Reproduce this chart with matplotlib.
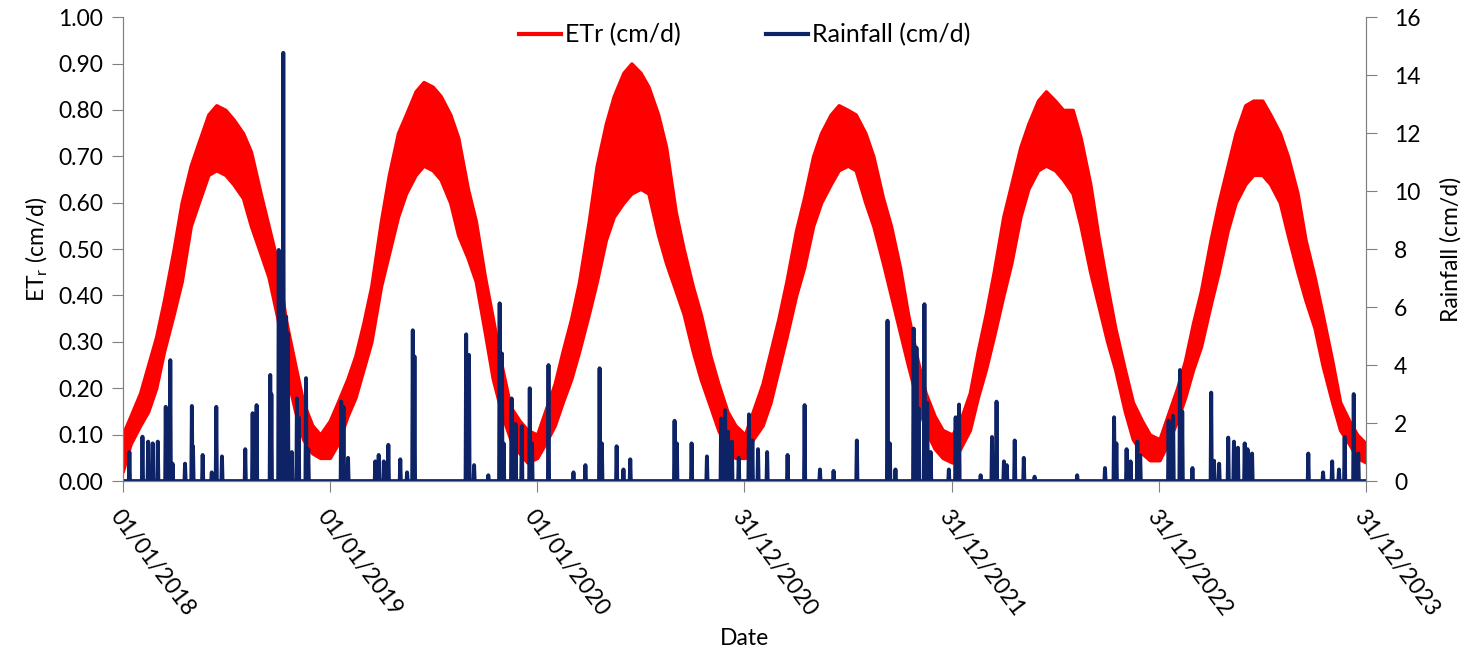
import numpy as np
import pandas as pd
import matplotlib
matplotlib.use('Agg')
from matplotlib import pyplot as plt
from matplotlib.lines import Line2D

plt.rcParams['font.family'] = ['Lato', 'DejaVu Sans']
plt.rcParams['mathtext.fontset'] = 'custom'
plt.rcParams['mathtext.rm'] = 'Lato'

# ETr envelope (lower / upper of the daily values),
# twice a month (1st and 15th) plus the last day
etr_dates = list(pd.date_range('2018-01-01', '2023-12-15', freq='SMS')) + [pd.Timestamp('2023-12-31')]
etr_low = [0.02, 0.08, 0.12, 0.15, 0.20, 0.28, 0.36, 0.43, 0.55, 0.60, 0.66, 0.67,
           0.66, 0.64, 0.61, 0.55, 0.49, 0.44, 0.35, 0.24, 0.15, 0.09, 0.06, 0.05,
           0.05, 0.08, 0.14, 0.18, 0.24, 0.30, 0.42, 0.49, 0.57, 0.62, 0.66, 0.68,
           0.67, 0.65, 0.60, 0.53, 0.48, 0.43, 0.32, 0.22, 0.14, 0.09, 0.06, 0.04,
           0.05, 0.08, 0.12, 0.17, 0.22, 0.28, 0.36, 0.43, 0.52, 0.57, 0.60, 0.62,
           0.63, 0.62, 0.53, 0.47, 0.41, 0.36, 0.28, 0.22, 0.16, 0.11, 0.07, 0.05,
           0.05, 0.09, 0.12, 0.17, 0.24, 0.31, 0.40, 0.46, 0.55, 0.60, 0.64, 0.67,
           0.68, 0.67, 0.60, 0.55, 0.47, 0.40, 0.32, 0.25, 0.17, 0.11, 0.07, 0.05,
           0.04, 0.07, 0.11, 0.18, 0.24, 0.31, 0.40, 0.47, 0.57, 0.63, 0.67, 0.68,
           0.67, 0.65, 0.62, 0.55, 0.45, 0.38, 0.30, 0.24, 0.15, 0.09, 0.06, 0.045,
           0.045, 0.08, 0.13, 0.18, 0.24, 0.29, 0.38, 0.45, 0.54, 0.60, 0.64, 0.66,
           0.66, 0.64, 0.60, 0.53, 0.45, 0.39, 0.33, 0.25, 0.17, 0.11, 0.08, 0.05,
           0.04]
etr_high = [0.10, 0.14, 0.19, 0.25, 0.31, 0.39, 0.50, 0.60, 0.68, 0.73, 0.79, 0.81,
            0.80, 0.78, 0.75, 0.71, 0.62, 0.55, 0.47, 0.35, 0.25, 0.17, 0.12, 0.10,
            0.13, 0.17, 0.22, 0.27, 0.34, 0.42, 0.56, 0.66, 0.75, 0.79, 0.84, 0.86,
            0.85, 0.83, 0.79, 0.74, 0.63, 0.56, 0.44, 0.35, 0.24, 0.16, 0.13, 0.11,
            0.10, 0.15, 0.21, 0.28, 0.35, 0.43, 0.56, 0.68, 0.77, 0.83, 0.88, 0.90,
            0.88, 0.85, 0.79, 0.72, 0.58, 0.50, 0.42, 0.36, 0.27, 0.21, 0.15, 0.12,
            0.10, 0.15, 0.21, 0.28, 0.35, 0.43, 0.54, 0.61, 0.70, 0.75, 0.79, 0.81,
            0.80, 0.79, 0.75, 0.70, 0.61, 0.55, 0.46, 0.36, 0.26, 0.19, 0.14, 0.11,
            0.10, 0.13, 0.19, 0.28, 0.36, 0.45, 0.57, 0.64, 0.72, 0.77, 0.82, 0.84,
            0.82, 0.80, 0.80, 0.74, 0.64, 0.53, 0.42, 0.33, 0.24, 0.17, 0.13, 0.10,
            0.09, 0.14, 0.20, 0.26, 0.34, 0.41, 0.52, 0.60, 0.68, 0.75, 0.81, 0.82,
            0.82, 0.79, 0.75, 0.70, 0.62, 0.52, 0.44, 0.36, 0.26, 0.17, 0.13, 0.10,
            0.08]

# rain days (cm/d), all other days are 0
rain_dates = ['2018-01-13', '2018-02-05', '2018-02-15', '2018-02-23', '2018-03-04', '2018-03-18',
              '2018-03-20', '2018-03-26', '2018-03-30', '2018-04-21', '2018-05-03', '2018-05-05',
              '2018-05-22', '2018-06-07', '2018-06-15', '2018-06-25', '2018-08-05', '2018-08-18',
              '2018-08-25', '2018-09-18', '2018-09-20', '2018-10-03', '2018-10-07', '2018-10-11',
              '2018-10-16', '2018-10-19', '2018-10-26', '2018-11-04', '2018-11-07', '2018-11-20',
              '2018-11-24',
              '2019-01-21', '2019-01-25', '2019-02-02', '2019-03-22', '2019-03-28', '2019-04-06',
              '2019-04-14', '2019-05-05', '2019-05-17', '2019-05-27', '2019-05-30', '2019-08-29',
              '2019-09-03', '2019-09-12', '2019-10-07', '2019-10-27', '2019-10-31', '2019-11-03',
              '2019-11-17', '2019-11-24', '2019-12-05', '2019-12-19', '2019-12-23',
              '2020-01-21', '2020-03-05', '2020-03-26', '2020-04-20', '2020-04-24', '2020-05-20',
              '2020-06-01', '2020-06-13', '2020-08-30', '2020-09-03', '2020-09-29', '2020-10-26',
              '2020-11-20', '2020-11-27', '2020-12-02', '2020-12-09', '2020-12-21',
              '2021-01-08', '2021-01-14', '2021-01-24', '2021-02-09', '2021-03-17', '2021-04-16',
              '2021-05-13', '2021-06-06', '2021-07-17', '2021-09-09', '2021-09-13', '2021-09-23',
              '2021-10-25', '2021-10-30', '2021-11-03', '2021-11-13', '2021-11-18', '2021-11-24',
              '2021-12-26',
              '2022-01-07', '2022-01-13', '2022-02-20', '2022-03-12', '2022-03-20', '2022-04-02',
              '2022-04-07', '2022-04-21', '2022-05-07', '2022-05-26', '2022-08-09', '2022-09-27',
              '2022-10-13', '2022-10-17', '2022-11-04', '2022-11-11', '2022-11-23', '2022-11-28',
              '2023-01-17', '2023-01-25', '2023-02-06', '2023-02-10', '2023-02-28', '2023-04-02',
              '2023-04-07', '2023-04-16', '2023-05-02', '2023-05-12', '2023-05-19', '2023-05-31',
              '2023-06-05', '2023-06-13', '2023-09-20', '2023-10-16', '2023-11-01', '2023-11-13',
              '2023-11-23', '2023-12-09', '2023-12-17']
rain_cm = [1.0, 1.53, 1.36, 1.3, 1.36, 2.56,
           1.5, 4.17, 0.6, 0.6, 2.59, 1.2,
           0.9, 0.3, 2.56, 0.85, 1.1, 2.34,
           2.62, 3.66, 3.0, 7.97, 6.8, 14.77,
           5.67, 5.1, 1.0, 2.85, 2.2, 3.55,
           1.1,
           2.74, 2.56, 0.8, 0.68, 0.9, 0.68,
           1.25, 0.75, 0.3, 5.2, 4.3, 5.06,
           4.35, 0.55, 0.2, 6.13, 4.4, 1.3,
           2.85, 1.97, 1.9, 3.2, 1.3,
           4.0, 0.3, 0.55, 3.89, 1.3, 1.2,
           0.4, 0.75, 2.08, 1.3, 1.3, 0.85,
           2.16, 2.44, 1.7, 1.36, 0.8,
           2.3, 1.4, 1.1, 1.0, 0.9, 2.62,
           0.4, 0.35, 1.4, 5.53, 1.3, 0.4,
           5.26, 4.6, 2.5, 6.1, 2.7, 1.0,
           0.4,
           2.2, 2.64, 0.2, 1.52, 2.74, 0.68,
           0.55, 1.4, 0.8, 0.15, 0.2, 0.45,
           2.2, 1.3, 1.1, 0.68, 1.36, 0.9,
           2.08, 2.25, 3.83, 2.4, 0.45, 3.05,
           0.7, 0.6, 1.5, 1.36, 1.15, 1.3,
           1.1, 0.95, 0.95, 0.3, 0.68, 0.4,
           1.52, 3.0, 0.95]

tick_dates = ['2018-01-01', '2019-01-01', '2020-01-01', '2020-12-31', '2021-12-31', '2022-12-31', '2023-12-31']
tick_labels = ['01/01/2018', '01/01/2019', '01/01/2020', '31/12/2020', '31/12/2021', '31/12/2022', '31/12/2023']

days = pd.date_range('2018-01-01', '2023-12-31', freq='D')
rain = pd.Series(0.0, index=days)
rain[pd.to_datetime(rain_dates)] = rain_cm

red = '#FF0000'
navy = '#0D2366'
fs = 16.5

fig = plt.figure(figsize=(14.77, 6.59), dpi=100)
ax = fig.add_axes([0.083, 0.27, 0.842, 0.704])
ax2 = ax.twinx()

ax.fill_between(etr_dates, etr_low, etr_high, color=red, edgecolor=red, lw=2.5)
ax2.plot(days, rain.values, color=navy, lw=2.8)

ax.set_xlim(pd.Timestamp('2018-01-01'), pd.Timestamp('2023-12-31'))
ax.set_ylim(0, 1.0)
ax2.set_ylim(0, 16)
ax.set_yticks(np.arange(0, 1.01, 0.1))
ax.set_yticklabels(['%.2f' % v for v in np.arange(0, 1.01, 0.1)])
ax2.set_yticks(range(0, 17, 2))
ax.set_xticks(pd.to_datetime(tick_dates))
ax.set_xticklabels(tick_labels, rotation=-53, ha='left', va='top', rotation_mode='anchor')

for a in (ax, ax2):
    a.spines['top'].set_visible(False)
    for s in a.spines.values():
        s.set_color('#808080')
    a.tick_params(colors='#808080', labelcolor='black', labelsize=fs, length=8, pad=6)
ax.tick_params(axis='x', pad=10)
ax2.tick_params(axis='y', pad=12)

ax.set_ylabel(r'ET$_\mathrm{r}$ (cm/d)', fontsize=fs, labelpad=6)
ax2.set_ylabel('Rainfall (cm/d)', fontsize=fs, labelpad=14)
ax.set_xlabel('Date', fontsize=fs, labelpad=6)

handles = [Line2D([], [], color=red, lw=3), Line2D([], [], color=navy, lw=3)]
ax2.legend(handles, ['ETr (cm/d)', 'Rainfall (cm/d)'], loc='upper center', bbox_to_anchor=(0.5, 1.035),
           ncol=2, frameon=False, fontsize=18, handlelength=1.7, handletextpad=0.15, columnspacing=3.4)

fig.savefig('out.png', dpi=100)
